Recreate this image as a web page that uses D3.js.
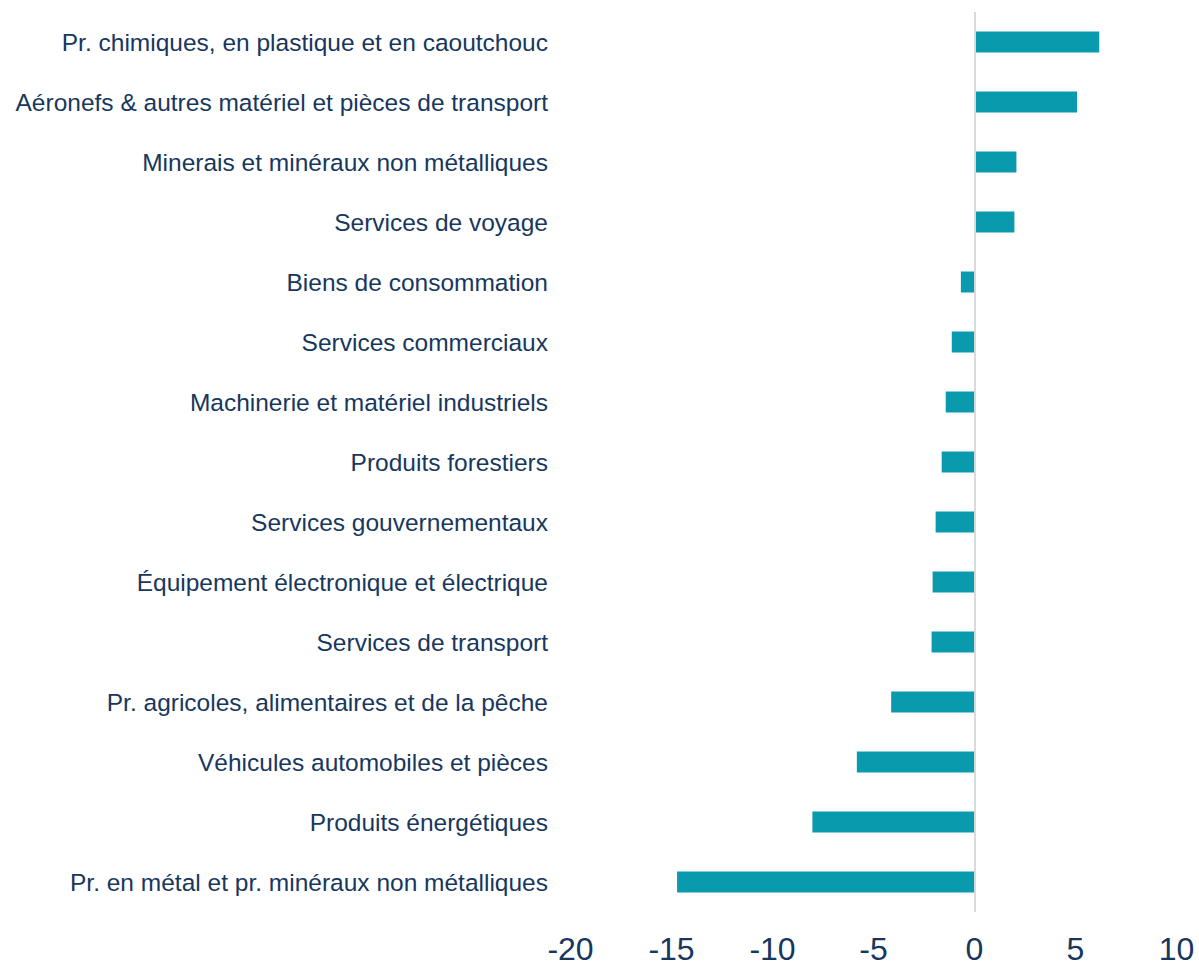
<!DOCTYPE html>
<html>
<head>
<meta charset="utf-8">
<script src="https://cdn.jsdelivr.net/npm/d3@7"></script>
<style>
  body { margin: 0; background: #fff; }
  text { font-family: "Liberation Sans", Arial, sans-serif; }
</style>
</head>
<body>
<div id="container"></div>
<script>
let categories = [
  "Pr. chimiques, en plastique et en caoutchouc",
  "Aéronefs & autres matériel et pièces de transport",
  "Minerais et minéraux non métalliques",
  "Services de voyage",
  "Biens de consommation",
  "Services commerciaux",
  "Machinerie et matériel industriels",
  "Produits forestiers",
  "Services gouvernementaux",
  "Équipement électronique et électrique",
  "Services de transport",
  "Pr. agricoles, alimentaires et de la pêche",
  "Véhicules automobiles et pièces",
  "Produits énergétiques",
  "Pr. en métal et pr. minéraux non métalliques"
];
let values = [6.2, 5.1, 2.1, 2.0, -0.65, -1.1, -1.4, -1.6, -1.9, -2.05, -2.1, -4.1, -5.8, -8.0, -14.7];
let tickValues = [-20, -15, -10, -5, 0, 5, 10];

let w = 1199;
let h = 967;

let viz = d3.select("#container")
  .append("svg")
    .attr("width", w)
    .attr("height", h)
;

let xScale = d3.scaleLinear().domain([-20, 10]).range([570, 1176]);
let yScale = d3.scaleBand().domain(categories).range([12, 912]).paddingInner(0.65).paddingOuter(0.325);

// bars
viz.append("g").selectAll("rect").data(values).enter()
  .append("rect")
    .attr("x", function(d){ return xScale(Math.min(0, d)); })
    .attr("y", function(d, i){ return yScale(categories[i]); })
    .attr("width", function(d){ return Math.abs(xScale(d) - xScale(0)); })
    .attr("height", yScale.bandwidth())
    .attr("fill", "#0a9aae")
;

// zero line
viz.append("line")
  .attr("x1", xScale(0) + 1).attr("x2", xScale(0) + 1)
  .attr("y1", 12).attr("y2", 912)
  .attr("stroke", "#d9d9d9")
  .attr("stroke-width", 2)
;

// category labels
viz.append("g").selectAll("text").data(categories).enter()
  .append("text")
    .attr("x", 548)
    .attr("y", function(d){ return yScale(d) + yScale.bandwidth() / 2; })
    .attr("dy", "0.35em")
    .attr("text-anchor", "end")
    .attr("fill", "#17375e")
    .style("font-size", "24.5px")
    .text(function(d){ return d; })
;

// x axis ticks
let xAxis = d3.axisBottom(xScale)
  .tickValues(tickValues)
  .tickFormat(function(d){ return String(d); })
  .tickSize(0).tickPadding(0);
let xAxisGroup = viz.append("g")
  .attr("transform", "translate(0,937)")
  .call(xAxis);
xAxisGroup.select(".domain").remove();
xAxisGroup.selectAll("text")
  .attr("fill", "#17375e")
  .attr("dy", "0.71em")
  .style("font-size", "32px")
  .style("font-family", "'Liberation Sans', Arial, sans-serif");
</script>
</body>
</html>
